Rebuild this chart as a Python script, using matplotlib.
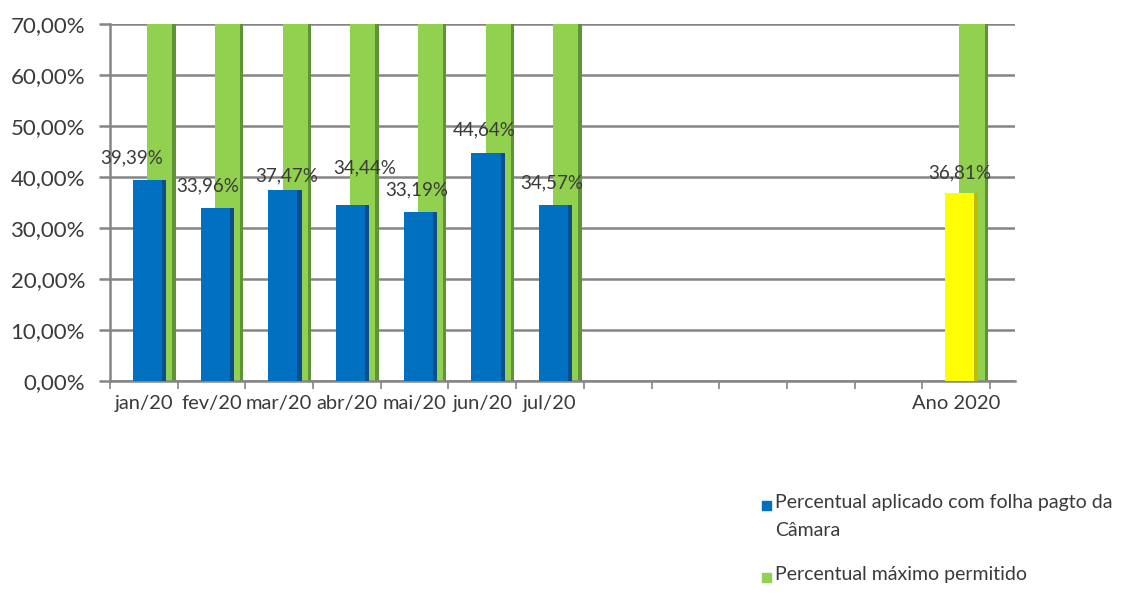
import matplotlib
matplotlib.use('Agg')
import matplotlib.pyplot as plt
import numpy as np
from matplotlib.patches import Rectangle

plt.rcParams['font.family'] = ['Lato', 'DejaVu Sans']

categories = ['jan/20', 'fev/20', 'mar/20', 'abr/20', 'mai/20', 'jun/20', 'jul/20',
              '', '', '', '', '', 'Ano 2020']
aplicado = [39.39, 33.96, 37.47, 34.44, 33.19, 44.64, 34.57,
            None, None, None, None, None, 36.81]
maximo = [70, 70, 70, 70, 70, 70, 70, None, None, None, None, None, 70]
y_ticks = [0, 10, 20, 30, 40, 50, 60, 70]
legend_labels = ['Percentual aplicado com folha pagto da\nCâmara', 'Percentual máximo permitido']

# nudges (points) so the value labels sit like the original layout
label_dx = [-11, -5, 3, 10, -1, -1, -1, 0, 0, 0, 0, 0, 0]
label_dy = [16, 16, 10, 27, 16, 17, 16, 0, 0, 0, 0, 0, 15]

BLUE, BLUE_DARK = '#0070c0', '#0a4f8c'
GREEN, GREEN_DARK = '#92d050', '#5e9435'
YELLOW, YELLOW_DARK = '#ffff00', '#bdbd00'
GRID = '#858585'
TXT = '#3a3a3a'


def pct(v):
    return f'{v:.2f}%'.replace('.', ',')


def main():
    fig = plt.figure(figsize=(11.36, 5.95), dpi=100)
    ax = fig.add_axes([110 / 1136, 214 / 595, 905 / 1136, 357 / 595])

    x = np.arange(len(categories))
    cat_left = x - 0.5

    # green "maximum" bars sit behind, shifted right
    for i, v in enumerate(maximo):
        if v is None:
            continue
        ax.bar(cat_left[i] + 0.55, v, width=0.42, align='edge', color=GREEN, zorder=2)
        ax.bar(cat_left[i] + 0.92, v, width=0.05, align='edge', color=GREEN_DARK, zorder=2)

    for i, v in enumerate(aplicado):
        if v is None:
            continue
        face, dark = (YELLOW, YELLOW_DARK) if categories[i] == 'Ano 2020' else (BLUE, BLUE_DARK)
        ax.bar(cat_left[i] + 0.34, v, width=0.49, align='edge', color=face, zorder=3)
        ax.bar(cat_left[i] + 0.77, v, width=0.06, align='edge', color=dark, zorder=3)
        ax.annotate(pct(v), (x[i] + 0.05, v), xytext=(label_dx[i], label_dy[i]),
                    textcoords='offset points', ha='center', va='center',
                    fontsize=13.5, color=TXT, zorder=4)

    ax.set_xlim(-0.5, len(categories) - 0.5 + 0.37)
    ax.set_ylim(0, 70)
    ax.set_yticks(y_ticks)
    ax.set_yticklabels([pct(t) for t in y_ticks], fontsize=16, color=TXT)
    ax.yaxis.grid(True, color=GRID, linewidth=1.8, zorder=1)
    ax.tick_params(axis='y', length=8, width=1.8, color=GRID, pad=10)

    ax.set_xticks(x)
    ax.set_xticklabels(categories, fontsize=14.5, color=TXT)
    ax.tick_params(axis='x', which='major', length=0, pad=10)
    ax.set_xticks(np.arange(len(categories) + 1) - 0.5, minor=True)
    ax.tick_params(axis='x', which='minor', length=6, width=1.2, color=GRID)

    for s in ['top', 'right']:
        ax.spines[s].set_visible(False)
    for s in ['left', 'bottom']:
        ax.spines[s].set_color(GRID)
        ax.spines[s].set_linewidth(1.8)
    ax.set_axisbelow(True)

    # legend drawn by hand: square sits on the first text line
    for j, (lab, col) in enumerate(zip(legend_labels, [BLUE, GREEN])):
        ytop = 1 - (501 + j * 72) / 595
        fig.patches.append(Rectangle((762 / 1136, ytop - 9 / 595), 9 / 1136, 9 / 595,
                                     transform=fig.transFigure, color=col))
        fig.text(775 / 1136, ytop + 7 / 595, lab, ha='left', va='top', fontsize=14,
                 color=TXT, linespacing=1.75)

    fig.savefig('out.png', dpi=100)


if __name__ == '__main__':
    main()
